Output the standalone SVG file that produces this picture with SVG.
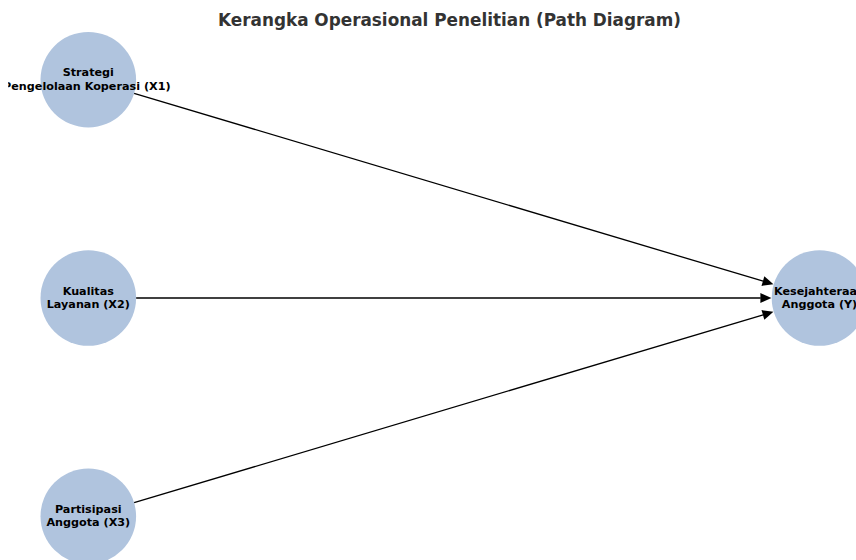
<svg xmlns="http://www.w3.org/2000/svg" width="856" height="560" viewBox="0 0 856 560">
<style>
.node{fill:#b0c4de;stroke:none}
.lbl{font-family:"DejaVu Sans",sans-serif;font-weight:bold;font-size:11.2px;fill:#000;text-anchor:middle}
.title{font-family:"DejaVu Sans",sans-serif;font-weight:bold;font-size:16.85px;fill:#333333;text-anchor:middle}
.edge{stroke:#000;stroke-width:1.3;fill:none;marker-end:url(#arr)}
</style>
<defs>
<marker id="arr" markerUnits="userSpaceOnUse" markerWidth="12" markerHeight="10" refX="0.3" refY="5" orient="auto" overflow="visible">
<path d="M0,0 L11,5 L0,10 z" fill="#000"/>
</marker>
<clipPath id="clip"><rect x="8.2" y="0" width="848" height="560"/></clipPath>
</defs>
<rect width="856" height="560" fill="#fff"/>
<text class="title" x="449.5" y="25.8">Kerangka Operasional Penelitian (Path Diagram)</text>
<g id="edges">
<line class="edge" x1="134.1" y1="93.4" x2="763.2" y2="281.2"/>
<line class="edge" x1="136.1" y1="298" x2="760.7" y2="298"/>
<line class="edge" x1="134.1" y1="502.6" x2="763.2" y2="314.8"/>
</g>
<g clip-path="url(#clip)">
<g id="X1">
<circle class="node" cx="88.3" cy="79.7" r="47.8"/>
<text class="lbl" x="88.3" y="76.2">Strategi</text>
<text class="lbl" x="86.8" y="89.6">Pengelolaan Koperasi (X1)</text>
</g>
<g id="X2">
<circle class="node" cx="88.3" cy="298" r="47.8"/>
<text class="lbl" x="88.3" y="294.6">Kualitas</text>
<text class="lbl" x="88.3" y="308">Layanan (X2)</text>
</g>
<g id="X3">
<circle class="node" cx="88.3" cy="516.3" r="47.8"/>
<text class="lbl" x="88.3" y="512.9">Partisipasi</text>
<text class="lbl" x="88.3" y="526.3">Anggota (X3)</text>
</g>
<g id="Y">
<circle class="node" cx="819.5" cy="298" r="47.8"/>
<text class="lbl" x="819.5" y="294.6">Kesejahteraan</text>
<text class="lbl" x="819.5" y="308">Anggota (Y)</text>
</g>
</g>
</svg>
